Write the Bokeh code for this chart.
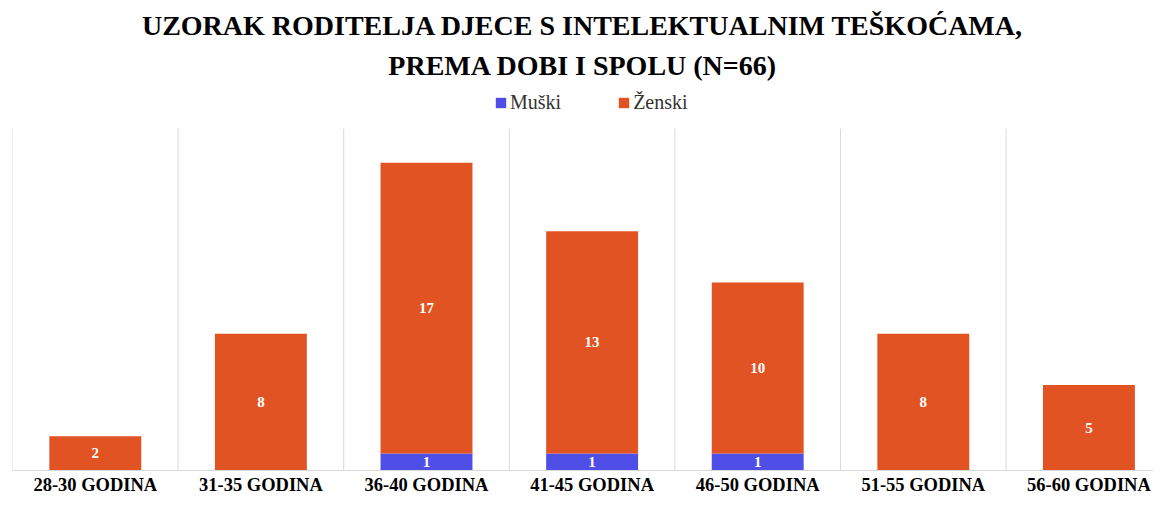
from bokeh.plotting import figure
from bokeh.models import (ColumnDataSource, FixedTicker, LabelSet, Legend, LegendItem,
                          Title, Range1d)
from bokeh.embed import file_html
from bokeh.resources import INLINE

categories = ["28-30 GODINA", "31-35 GODINA", "36-40 GODINA", "41-45 GODINA",
              "46-50 GODINA", "51-55 GODINA", "56-60 GODINA"]
muski = [0, 0, 1, 1, 1, 0, 0]
zenski = [2, 8, 17, 13, 10, 8, 5]
series_names = ["Muški", "Ženski"]
colors = ["#4F4FE8", "#E25323"]
title_lines = ["UZORAK RODITELJA DJECE S INTELEKTUALNIM TEŠKOĆAMA,",
               "PREMA DOBI I SPOLU (N=66)"]

FONT = "Liberation Serif"
n = len(categories)
xs = [i + 0.5 for i in range(n)]
GRID_TOP = 20

src = ColumnDataSource(dict(x=xs, m=muski, f=zenski))

p = figure(frame_width=1141, frame_height=383, output_backend="svg", toolbar_location=None,
           x_range=Range1d(0, 6.89), y_range=Range1d(0, 22.4), title=None,
           min_border_left=12, min_border_right=0, min_border_top=87, min_border_bottom=0)

# category separators (vertical grid lines at boundaries)
bx = list(range(n))
p.segment(x0=bx, y0=[0] * n, x1=bx, y1=[GRID_TOP] * n, line_color="#d9d9d9", line_width=1)

rs = p.vbar_stack(["m", "f"], x="x", width=0.555, color=colors, line_color=None, source=src)

# labels
mx = [x for x, v in zip(xs, muski) if v > 0]
my = [v / 2 for v in muski if v > 0]
mt = [str(v) for v in muski if v > 0]
fx = [x for x, v in zip(xs, zenski) if v > 0]
fy = [m + v / 2 for m, v in zip(muski, zenski) if v > 0]
ft = [str(v) for v in zenski if v > 0]
for lx, ly, lt in [(mx, my, mt), (fx, fy, ft)]:
    ls = LabelSet(x="x", y="y", text="t", source=ColumnDataSource(dict(x=lx, y=ly, t=lt)),
                  text_align="center", text_baseline="middle", text_color="white",
                  text_font=FONT, text_font_style="bold", text_font_size="15px")
    p.add_layout(ls)

# axes
p.yaxis.visible = False
p.xaxis.ticker = FixedTicker(ticks=xs)
p.xaxis.major_label_overrides = {x: c for x, c in zip(xs, categories)}
p.xaxis.major_tick_line_color = None
p.xaxis.major_tick_out = 0
p.xaxis.major_tick_in = 0
p.xaxis.minor_tick_line_color = None
p.xaxis.axis_line_color = "#d9d9d9"
p.xaxis.axis_line_width = 1
p.xaxis.major_label_text_font = FONT
p.xaxis.major_label_text_font_style = "bold"
p.xaxis.major_label_text_font_size = "18.5px"
p.xaxis.major_label_text_color = "#000000"
p.xaxis.major_label_standoff = 4

p.grid.visible = False
p.outline_line_color = None

legend = Legend(items=[LegendItem(label=series_names[0], renderers=[rs[0]]),
                       LegendItem(label=series_names[1], renderers=[rs[1]])],
                orientation="horizontal", location=(482, 356),
                label_text_font=FONT, label_text_font_size="20px",
                label_text_color="#333333",
                glyph_width=13, glyph_height=13, label_standoff=3, spacing=56,
                border_line_color=None, background_fill_alpha=0, padding=4, margin=0)
p.add_layout(legend, "center")

t2 = Title(text=title_lines[1], align="center", text_font=FONT, text_font_style="bold",
           text_font_size="28px", text_color="#000000",
           standoff=14, offset=8)
t1 = Title(text=title_lines[0], align="center", text_font=FONT, text_font_style="bold",
           text_font_size="28px", text_color="#000000",
           standoff=0, offset=8)
p.add_layout(t2, "above")
p.add_layout(t1, "above")

open("out.html", "w").write(file_html(p, INLINE))
